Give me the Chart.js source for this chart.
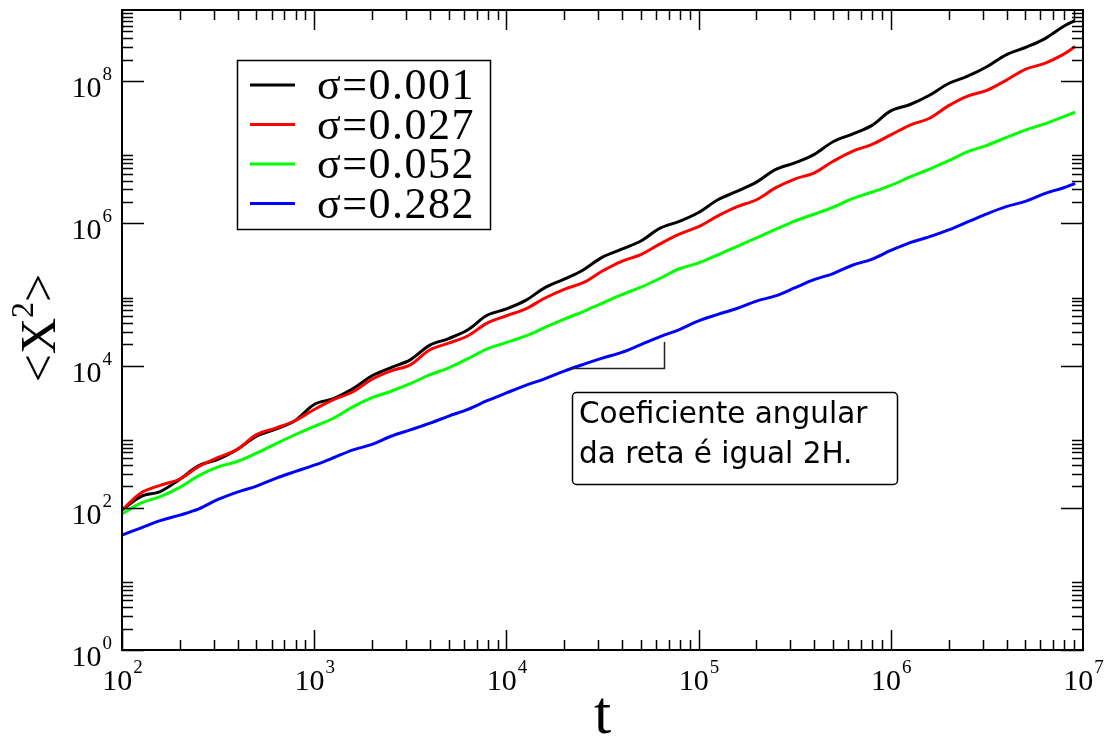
<!DOCTYPE html>
<html>
<head>
<meta charset="utf-8">
<script src="https://cdn.jsdelivr.net/npm/chart.js@4.4.1/dist/chart.umd.min.js"></script>
<style>
  html, body { margin: 0; padding: 0; background: #ffffff; }
</style>
</head>
<body>
<canvas id="myChart" width="1108" height="738"></canvas>
<script>
// time steps (log spaced, 0.1 decade)
var tValues = [100, 126, 158, 200, 251, 316, 398, 501, 631, 794,
  1000, 1260, 1580, 2000, 2510, 3160, 3980, 5010, 6310, 7940,
  1e4, 12600, 15800, 20000, 25100, 31600, 39800, 50100, 63100, 79400,
  1e5, 126000, 158000, 200000, 251000, 316000, 398000, 501000, 631000, 794000,
  1e6, 1.26e6, 1.58e6, 2e6, 2.51e6, 3.16e6, 3.98e6, 5.01e6, 6.31e6, 7.94e6, 9.1e6];

var sigmaLabels = ["\u03c3=0.001", "\u03c3=0.027", "\u03c3=0.052", "\u03c3=0.282"];
var lineColors = ["#000000", "#ff0000", "#00ff00", "#0000ff"];

var msd001 = [93, 145, 169, 252, 391, 480, 661, 1014, 1276, 1675,
  2838, 3435, 4656, 7190, 9376, 12020, 19230, 23990, 31900, 50940,
  62520, 82400, 123800, 164100, 221200, 334800, 433700, 563600, 855500, 1.066e6,
  1.423e6, 2.143e6, 2.811e6, 3.796e6, 5.689e6, 7.076e6, 9.25e6, 1.406e7, 1.799e7, 2.366e7,
  3.81e7, 4.69e7, 6.27e7, 9.25e7, 1.172e8, 1.589e8, 2.337e8, 2.97e8, 3.93e8, 5.9e8, 7.1e8];

var msd027 = [93, 163, 207, 254, 382, 510, 663, 1067, 1321, 1675,
  2413, 3313, 4254, 6417, 8420, 10230, 16520, 20660, 26240, 39610,
  50160, 62690, 88490, 118000, 146200, 213300, 292100, 363400, 514700, 704600,
  896000, 1.274e6, 1.706e6, 2.147e6, 3.148e6, 4.198e6, 5.1e6, 7.45e6, 1.03e7, 1.279e7,
  1.751e7, 2.414e7, 2.98e7, 4.52e7, 6.17e7, 7.43e7, 1.026e8, 1.465e8, 1.774e8, 2.4e8, 3.06e8];

var msd052 = [82, 117, 144, 194, 283, 376, 448, 588, 794, 1064,
  1400, 1815, 2608, 3538, 4353, 5565, 7380, 9310, 12530, 17170,
  21130, 26070, 34220, 45080, 57300, 75680, 99340, 126300, 169000, 229800,
  277300, 360600, 472000, 623700, 820500, 1.077e6, 1.343e6, 1.683e6, 2.224e6, 2.737e6,
  3.413e6, 4.495e6, 5.73e6, 7.59e6, 1.016e7, 1.25e7, 1.6e7, 2.05e7, 2.5e7, 3.17e7, 3.65e7];

var msd282 = [41.4, 52.3, 66.1, 78.9, 96.5, 131, 166, 202, 259, 322,
  397, 505, 648, 777, 1014, 1247, 1535, 1950, 2427, 3206,
  4120, 5270, 6500, 8370, 10360, 12740, 15330, 19730, 25590, 32060,
  42530, 52330, 63520, 80720, 95260, 123400, 161100, 196800, 257600, 311900,
  415700, 535300, 643700, 807700, 1.047e6, 1.36e6, 1.718e6, 2.038e6, 2.617e6, 3.169e6, 3.652e6];

var xTickValues = [1e2, 1e3, 1e4, 1e5, 1e6, 1e7];
var xTickExps = ["2", "3", "4", "5", "6", "7"];
var yTickValues = [1e0, 1e2, 1e4, 1e6, 1e8];
var yTickExps = ["0", "2", "4", "6", "8"];

var noteLines = ["Coeficiente angular", "da reta \u00e9 igual 2H."];

function pts(ys) {
  return tValues.map(function (t, i) { return { x: t, y: ys[i] }; });
}

var serif = '"Liberation Serif", "Times New Roman", serif';

function drawPow(ctx, exp, x, y, mode) {
  // "10" with superscript exponent; mode 'right' (y axis) or 'center' (x axis)
  ctx.font = '30px ' + serif;
  var w1 = ctx.measureText('10').width;
  ctx.font = '19px ' + serif;
  var w2 = ctx.measureText(exp).width;
  var left = mode === 'right' ? x - w1 - w2 : x - (w1 + w2) / 2;
  ctx.textAlign = 'left';
  ctx.textBaseline = 'alphabetic';
  ctx.font = '30px ' + serif;
  ctx.fillText('10', left, y);
  ctx.font = '19px ' + serif;
  ctx.fillText(exp, left + w1 + 1, y - 17);
}

var decorations = {
  id: 'decorations',
  afterDraw: function (chart) {
    var ctx = chart.ctx;
    var a = chart.chartArea;
    var xs = chart.scales.x, ys = chart.scales.y;
    ctx.save();
    ctx.strokeStyle = '#000';
    ctx.fillStyle = '#000';

    // frame
    ctx.lineWidth = 2;
    ctx.strokeRect(a.left, a.top, a.right - a.left, a.bottom - a.top);

    // x ticks (inside, top and bottom)
    ctx.lineWidth = 1.5;
    ctx.beginPath();
    for (var e = 2; e < 7; e++) {
      for (var m = 1; m <= 9; m++) {
        var v = m * Math.pow(10, e);
        var px = Math.round(xs.getPixelForValue(v)) + 0.5;
        var len = m === 1 ? 20 : 10;
        ctx.moveTo(px, a.bottom); ctx.lineTo(px, a.bottom - len);
        ctx.moveTo(px, a.top); ctx.lineTo(px, a.top + len);
      }
    }
    // y ticks (inside, left and right): major every 2 decades, minors 2..9
    for (var k = 0; k < 5; k++) {
      var base = Math.pow(10, 2 * k);
      for (var n = 1; n <= 9; n++) {
        var py = Math.round(ys.getPixelForValue(n * base)) + 0.5;
        var ln = n === 1 ? 22 : 11;
        ctx.moveTo(a.left, py); ctx.lineTo(a.left + ln, py);
        ctx.moveTo(a.right, py); ctx.lineTo(a.right - ln, py);
      }
    }
    ctx.stroke();

    // tick labels
    xTickValues.forEach(function (v, i) {
      drawPow(ctx, xTickExps[i], xs.getPixelForValue(v), a.bottom + 40, 'center');
    });
    yTickValues.forEach(function (v, i) {
      drawPow(ctx, yTickExps[i], a.left - 11, ys.getPixelForValue(v) + 16, 'right');
    });

    // axis titles
    ctx.font = '62px ' + serif;
    ctx.textAlign = 'center';
    ctx.textBaseline = 'alphabetic';
    ctx.fillText('t', (a.left + a.right) / 2, 733);

    ctx.save();
    ctx.translate(55, 328);
    ctx.rotate(-Math.PI / 2);
    ctx.font = '50px ' + serif;
    var p1 = '<X', p3 = '>';
    var w1 = ctx.measureText(p1).width;
    var w3 = ctx.measureText(p3).width;
    ctx.font = '32px ' + serif;
    var w2 = ctx.measureText('2').width;
    var x0 = -(w1 + w2 + w3) / 2;
    ctx.textAlign = 'left';
    ctx.font = '50px ' + serif;
    ctx.fillText(p1, x0, 0);
    ctx.fillText(p3, x0 + w1 + w2, 0);
    ctx.font = '32px ' + serif;
    ctx.fillText('2', x0 + w1, -22);
    ctx.restore();

    // legend box
    ctx.lineWidth = 1.5;
    ctx.strokeRect(237.5, 60.5, 253, 169);
    chart.data.datasets.forEach(function (ds, i) {
      var ly = 85 + i * 39.5;
      ctx.strokeStyle = ds.borderColor;
      ctx.lineWidth = 3;
      ctx.beginPath();
      ctx.moveTo(250, ly); ctx.lineTo(295, ly);
      ctx.stroke();
      ctx.fillStyle = '#000';
      ctx.font = '44px ' + serif;
      ctx.letterSpacing = '1.5px';
      ctx.textAlign = 'left';
      ctx.fillText(ds.label, 317, ly + 14);
      ctx.letterSpacing = '0px';
    });

    // annotation pointer
    ctx.strokeStyle = '#222';
    ctx.lineWidth = 1.5;
    ctx.beginPath();
    ctx.moveTo(570, 368.5); ctx.lineTo(664.5, 368.5); ctx.lineTo(664.5, 342);
    ctx.stroke();

    // annotation box
    ctx.strokeStyle = '#000';
    ctx.beginPath();
    ctx.roundRect(572.5, 392.5, 325, 92, 4);
    ctx.fillStyle = '#fff';
    ctx.fill();
    ctx.stroke();
    ctx.fillStyle = '#000';
    ctx.font = '29.5px "DejaVu Sans", sans-serif';
    ctx.textAlign = 'left';
    ctx.fillText(noteLines[0], 579, 423);
    ctx.fillText(noteLines[1], 579, 463);

    ctx.restore();
  }
};

var series = [msd001, msd027, msd052, msd282];

new Chart("myChart", {
  type: "line",
  data: {
    datasets: series.map(function (s, i) {
      return {
        label: sigmaLabels[i],
        data: pts(s),
        borderColor: lineColors[i],
        borderWidth: 3,
        pointRadius: 0,
        tension: 0.35,
        fill: false,
        order: 4 - i
      };
    })
  },
  options: {
    responsive: false,
    animation: false,
    devicePixelRatio: 1,
    layout: { padding: { left: 122, right: 25, top: 10, bottom: 88 } },
    plugins: {
      legend: { display: false },
      tooltip: { enabled: false }
    },
    scales: {
      x: { type: 'logarithmic', min: 100, max: 1e7, display: false },
      y: { type: 'logarithmic', min: 1, max: 1e9, display: false }
    }
  },
  plugins: [decorations]
});
</script>
</body>
</html>
